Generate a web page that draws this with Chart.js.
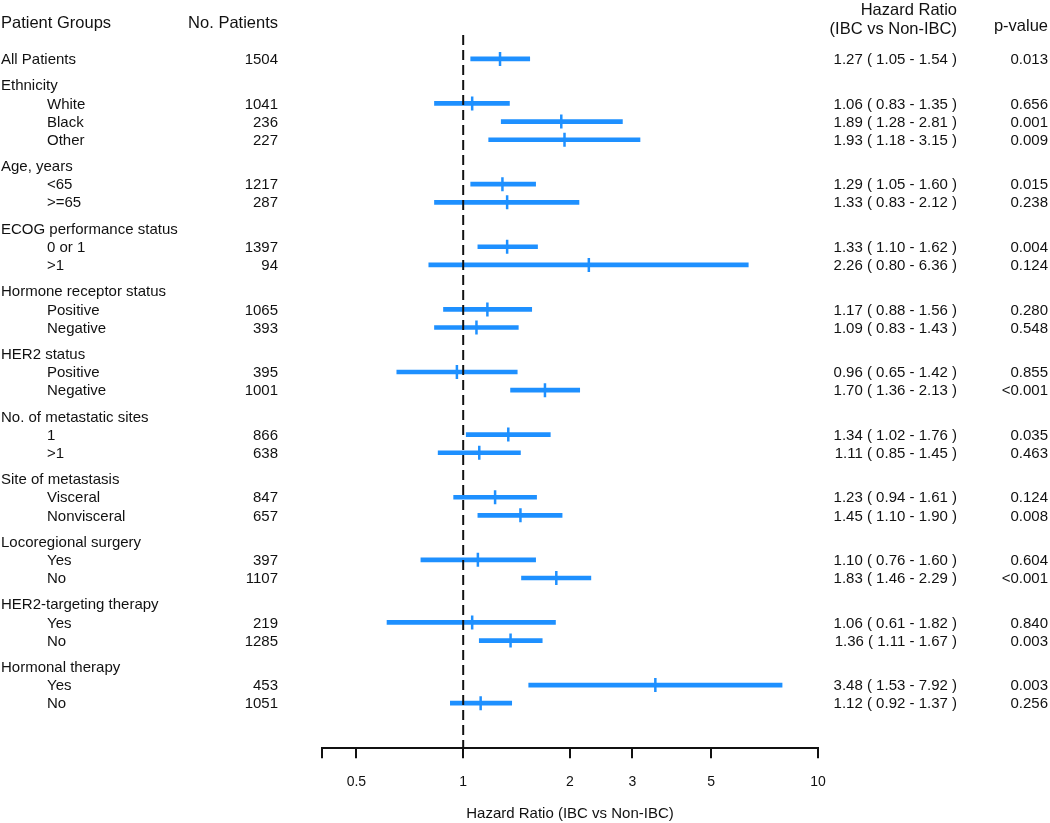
<!DOCTYPE html>
<html>
<head>
<meta charset="utf-8">
<script src="https://cdn.jsdelivr.net/npm/chart.js@4/dist/chart.umd.min.js"></script>
<style>
  html, body { margin: 0; padding: 0; background: #fff; }
  #wrap { width: 1050px; height: 823px; position: relative; }
</style>
</head>
<body>
<div id="wrap"><canvas id="forestChart"></canvas></div>
<script>
// ---- data ----
const rowLabels = ['All Patients', 'Ethnicity', 'White', 'Black', 'Other', 'Age, years', '<65', '>=65',
    'ECOG performance status', '0 or 1', '>1', 'Hormone receptor status', 'Positive', 'Negative',
    'HER2 status', 'Positive', 'Negative', 'No. of metastatic sites', '1', '>1',
    'Site of metastasis', 'Visceral', 'Nonvisceral', 'Locoregional surgery', 'Yes', 'No',
    'HER2-targeting therapy', 'Yes', 'No', 'Hormonal therapy', 'Yes', 'No'];
const rowKind = ['all', 'group', 'sub', 'sub', 'sub', 'group', 'sub', 'sub',
    'group', 'sub', 'sub', 'group', 'sub', 'sub',
    'group', 'sub', 'sub', 'group', 'sub', 'sub',
    'group', 'sub', 'sub', 'group', 'sub', 'sub',
    'group', 'sub', 'sub', 'group', 'sub', 'sub'];
const patients = [1504, null, 1041, 236, 227, null, 1217, 287, null, 1397, 94, null, 1065, 393,
    null, 395, 1001, null, 866, 638, null, 847, 657, null, 397, 1107, null, 219, 1285, null, 453, 1051];
const hazardRatio = [1.27, null, 1.06, 1.89, 1.93, null, 1.29, 1.33, null, 1.33, 2.26, null, 1.17, 1.09,
    null, 0.96, 1.70, null, 1.34, 1.11, null, 1.23, 1.45, null, 1.10, 1.83, null, 1.06, 1.36, null, 3.48, 1.12];
const ciLower = [1.05, null, 0.83, 1.28, 1.18, null, 1.05, 0.83, null, 1.10, 0.80, null, 0.88, 0.83,
    null, 0.65, 1.36, null, 1.02, 0.85, null, 0.94, 1.10, null, 0.76, 1.46, null, 0.61, 1.11, null, 1.53, 0.92];
const ciUpper = [1.54, null, 1.35, 2.81, 3.15, null, 1.60, 2.12, null, 1.62, 6.36, null, 1.56, 1.43,
    null, 1.42, 2.13, null, 1.76, 1.45, null, 1.61, 1.90, null, 1.60, 2.29, null, 1.82, 1.67, null, 7.92, 1.37];
const pValues = ['0.013', '', '0.656', '0.001', '0.009', '', '0.015', '0.238', '', '0.004', '0.124', '',
    '0.280', '0.548', '', '0.855', '<0.001', '', '0.035', '0.463', '', '0.124', '0.008', '',
    '0.604', '<0.001', '', '0.840', '0.003', '', '0.003', '0.256'];
const xTicks = [0.4, 0.5, 1, 2, 3, 5, 10];

// ---- layout ----
const BLUE = '#1e90ff';
const INK = '#111111';
const FONT = '"Liberation Sans", Arial, Helvetica, sans-serif';
const GROUP_GAP = 1.45;

// vertical position of each row (in row units, top to bottom)
const rowPos = [];
rowLabels.forEach(function (lbl, i) {
    if (i === 0) rowPos.push(0);
    else rowPos.push(rowPos[i - 1] + (rowKind[i] === 'group' ? GROUP_GAP : 1));
});
const yMin = -1.32;
const yMax = rowPos[rowPos.length - 1] + 2.48;

const ciData = [];
const hrData = [];
rowLabels.forEach(function (lbl, i) {
    if (hazardRatio[i] == null) return;
    ciData.push({ x: [ciLower[i], ciUpper[i]], y: rowPos[i] });
    hrData.push({ x: hazardRatio[i], y: rowPos[i] });
});

// text columns drawn next to the plot
const tablePlugin = {
    id: 'tableText',
    afterDraw: function (chart) {
        const ctx = chart.ctx;
        const yScale = chart.scales.y;
        ctx.save();
        ctx.fillStyle = INK;
        ctx.textBaseline = 'middle';

        // headers
        ctx.font = '16.5px ' + FONT;
        ctx.textAlign = 'left';
        ctx.fillText('Patient Groups', 1, 23);
        ctx.textAlign = 'right';
        ctx.fillText('No. Patients', 278, 23);
        ctx.fillText('Hazard Ratio', 957, 10);
        ctx.fillText('(IBC vs Non-IBC)', 957, 29);
        ctx.fillText('p-value', 1048, 26);

        ctx.font = '15px ' + FONT;
        rowLabels.forEach(function (lbl, i) {
            const y = yScale.getPixelForValue(rowPos[i]) + 1;
            ctx.textAlign = 'left';
            ctx.fillText(lbl, rowKind[i] === 'sub' ? 47 : 1, y);
            if (patients[i] != null) {
                ctx.textAlign = 'right';
                ctx.fillText(String(patients[i]), 278, y);
            }
            if (hazardRatio[i] != null) {
                ctx.textAlign = 'right';
                const txt = hazardRatio[i].toFixed(2) + ' ( ' + ciLower[i].toFixed(2) + ' - ' + ciUpper[i].toFixed(2) + ' )';
                ctx.fillText(txt, 957, y);
                ctx.fillText(pValues[i], 1048, y);
            }
        });
        ctx.restore();
    }
};

const canvas = document.getElementById('forestChart');
new Chart(canvas.getContext('2d'), {
    type: 'bar',
    data: {
        datasets: [
            {
                type: 'line',
                label: 'No effect',
                data: [{ x: 1, y: yMin }, { x: 1, y: yMax }],
                borderColor: INK,
                borderWidth: 2,
                borderDash: [10, 5],
                pointRadius: 0,
                fill: false,
                order: 0
            },
            {
                type: 'scatter',
                label: 'Hazard ratio',
                data: hrData,
                pointStyle: 'line',
                rotation: 90,
                pointRadius: 7,
                borderColor: BLUE,
                backgroundColor: BLUE,
                borderWidth: 2.5,
                order: 1
            },
            {
                type: 'bar',
                label: '95% CI',
                data: ciData,
                backgroundColor: BLUE,
                borderWidth: 0,
                barThickness: 4,
                grouped: false,
                order: 2
            }
        ]
    },
    options: {
        indexAxis: 'y',
        responsive: true,
        maintainAspectRatio: false,
        animation: false,
        layout: {
            padding: { left: 322, right: 232, top: 35, bottom: 0 }
        },
        plugins: {
            legend: { display: false },
            tooltip: { enabled: false }
        },
        scales: {
            x: {
                type: 'logarithmic',
                min: 0.4,
                max: 10,
                afterBuildTicks: function (scale) {
                    scale.ticks = xTicks.map(function (v) { return { value: v }; });
                },
                ticks: {
                    color: INK,
                    font: { size: 14, family: FONT },
                    padding: 16,
                    maxRotation: 0,
                    autoSkip: false,
                    callback: function (value) {
                        return value === 0.4 ? '' : String(value);
                    }
                },
                grid: {
                    drawOnChartArea: false,
                    drawTicks: true,
                    tickLength: 10,
                    color: INK,
                    lineWidth: 2
                },
                border: { display: true, color: INK, width: 2 },
                title: {
                    display: true,
                    text: 'Hazard Ratio (IBC vs Non-IBC)',
                    color: INK,
                    font: { size: 15, family: FONT },
                    padding: { top: -2, bottom: 0 }
                }
            },
            y: {
                type: 'linear',
                reverse: true,
                offset: false,
                min: yMin,
                max: yMax,
                display: false
            }
        }
    },
    plugins: [tablePlugin]
});
</script>
</body>
</html>
